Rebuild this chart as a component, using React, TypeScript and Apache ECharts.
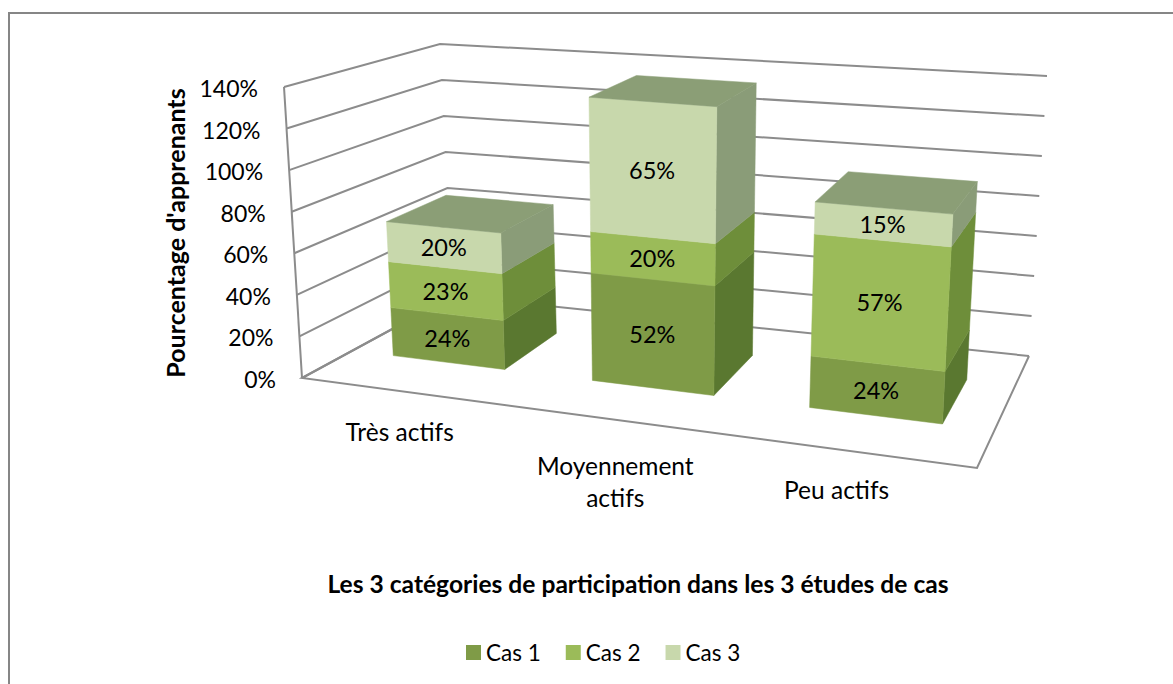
import React, { useEffect, useRef } from "react";
import * as echarts from "echarts";

const categories = ["Très actifs", "Moyennement\nactifs", "Peu actifs"];
const cas1 = [24, 52, 24];
const cas2 = [23, 20, 57];
const cas3 = [20, 65, 15];
const seriesNames = ["Cas 1", "Cas 2", "Cas 3"];
const yTicks = [0, 20, 40, 60, 80, 100, 120, 140];

const seriesValues = [cas1, cas2, cas3];
const frontColors = ["#7F9B47", "#9BBB59", "#C8D8AC"];
const sideColors = ["#5A7830", "#6E8E3A", "#8A9C78"];
const topColor = "#8B9E76";
const FONT = "Lato";
const TICK_SIZE = 23;
const CATEGORY_SIZE = 24.5;
const DATA_SIZE = 23.5;
const LEGEND_SIZE = 22.5;
const TITLE_SIZE = 24.6;
const YNAME_SIZE = 25;

// 3D box corners of the plot, as they appear on the page
type P = [number, number];
const FLB: P = [302, 378], FRB: P = [977, 468], BLB: P = [453, 296], BRB: P = [1029, 356];
const FLT: P = [284, 87], FRT: P = [995, 145], BLT: P = [440, 44], BRT: P = [1047, 76];
const PERSPECTIVE = 1.141;
const BAR_FRONT = 0.335;
const BAR_BACK = 0.74;
const labelOffsets: P[] = [[-3, 40], [-2, 61], [-15, 38]];

const mix = (a: P, b: P, t: number): P => [a[0] + (b[0] - a[0]) * t, a[1] + (b[1] - a[1]) * t];
function project(s: number, v: number, w: number): P {
  const u = s / (s + (1 - s) * PERSPECTIVE);
  const bottom = mix(mix(FLB, FRB, u), mix(BLB, BRB, u), w);
  const top = mix(mix(FLT, FRT, u), mix(BLT, BRT, u), w);
  return mix(bottom, top, v);
}

function stacked(seriesIdx: number) {
  return categories.map((_, c) => {
    let start = 0;
    for (let k = 0; k < seriesIdx; k++) start += seriesValues[k][c];
    const value = seriesValues[seriesIdx][c];
    return [c, start, start + value, value];
  });
}

export default function App() {
  const ref = useRef<HTMLDivElement>(null);
  useEffect(() => {
    const chart = echarts.init(ref.current!, null, { renderer: "svg" });
    const vOf = (api: any, params: any, val: number) => {
      const cs = params.coordSys;
      return (cs.y + cs.height - api.coord([0, val])[1]) / cs.height;
    };
    const sOf = (api: any, params: any, c: number) => {
      const cs = params.coordSys;
      return (api.coord([c, 0])[0] - cs.x) / cs.width;
    };
    const textStyle = (text: string, x: number, y: number, size: number) => ({
      type: "text",
      silent: true,
      z2: 100,
      style: { text, x, y, align: "center", verticalAlign: "middle", fill: "#000", font: `${size}px ${FONT}`, lineHeight: 32 },
    });

    const wallSeries = {
      type: "custom",
      name: "walls",
      silent: true,
      clip: false,
      z: 1,
      data: yTicks.map((t) => [0, t]),
      encode: { x: 0, y: 1 },
      renderItem: (params: any, api: any) => {
        const val = api.value(1);
        const v = vOf(api, params, val);
        const lineStyle = { stroke: "#8C8C8C", lineWidth: 2, fill: "none" };
        const pts = [project(0, v, 0), project(0, v, 1), project(1, v, 1)];
        const children: any[] = [{ type: "polyline", shape: { points: pts }, style: lineStyle }];
        const fl = project(0, v, 0);
        children.push({
          type: "text",
          style: { text: `${val}%`, x: fl[0] - 26, y: fl[1] + 1, align: "right", verticalAlign: "middle", fill: "#000", font: `${TICK_SIZE}px ${FONT}` },
        });
        if (val === 0) {
          children.push({
            type: "polyline",
            shape: { points: [project(0, 0, 1), project(0, 0, 0), project(1, 0, 0), project(1, 0, 1)] },
            style: lineStyle,
          });
          children.push({
            type: "line",
            shape: { x1: FLB[0], y1: FLB[1], x2: FLT[0], y2: FLT[1] },
            style: lineStyle,
          });
        }
        return { type: "group", children };
      },
    };

    const categoryLabelSeries = {
      type: "custom",
      name: "categories",
      silent: true,
      clip: false,
      z: 1,
      data: categories.map((_, c) => [c, 0]),
      encode: { x: 0, y: 1 },
      renderItem: (params: any, api: any) => {
        const c = api.value(0);
        const p = project(sOf(api, params, c), 0, 0);
        return textStyle(categories[c], p[0] + labelOffsets[c][0], p[1] + labelOffsets[c][1], CATEGORY_SIZE);
      },
    };

    const barSeries = seriesNames.map((name, idx) => ({
      type: "custom",
      name,
      silent: true,
      clip: false,
      z: 2 + idx,
      itemStyle: { color: frontColors[idx] },
      data: stacked(idx),
      encode: { x: 0, y: [1, 2] },
      renderItem: (params: any, api: any) => {
        const c = api.value(0);
        const sc = sOf(api, params, c);
        const half = (api.size([1, 0])[0] / params.coordSys.width) * 0.57 * 0.5;
        const v0 = vOf(api, params, api.value(1));
        const v1 = vOf(api, params, api.value(2));
        const s0 = sc - half, s1 = sc + half;
        const poly = (points: P[], fill: string) => ({
          type: "polygon",
          shape: { points },
          style: { fill, stroke: fill, lineWidth: 0.5 },
        });
        const children: any[] = [
          poly([project(s1, v0, BAR_FRONT), project(s1, v0, BAR_BACK), project(s1, v1, BAR_BACK), project(s1, v1, BAR_FRONT)], sideColors[idx]),
          poly([project(s0, v0, BAR_FRONT), project(s1, v0, BAR_FRONT), project(s1, v1, BAR_FRONT), project(s0, v1, BAR_FRONT)], frontColors[idx]),
        ];
        if (idx === seriesNames.length - 1) {
          children.push(poly([project(s0, v1, BAR_FRONT), project(s1, v1, BAR_FRONT), project(s1, v1, BAR_BACK), project(s0, v1, BAR_BACK)], topColor));
        }
        const m = project(sc, (v0 + v1) / 2, BAR_FRONT);
        children.push(textStyle(`${api.value(3)}%`, m[0], m[1], DATA_SIZE));
        return { type: "group", children };
      },
    }));

    chart.setOption({
      animation: false,
      backgroundColor: "#fff",
      textStyle: { fontFamily: FONT },
      grid: { left: 284, top: 88, width: 708, height: 290 },
      xAxis: {
        type: "category",
        data: categories,
        name: "Les 3 catégories de participation dans les 3 études de cas",
        nameLocation: "middle",
        nameGap: 193,
        nameTextStyle: { fontFamily: FONT, fontWeight: "bold", fontSize: TITLE_SIZE, color: "#000" },
        axisLine: { show: false },
        axisTick: { show: false },
        axisLabel: { show: false },
        splitLine: { show: false },
      },
      yAxis: {
        type: "value",
        min: 0,
        max: 140,
        interval: 20,
        name: "Pourcentage d'apprenants",
        nameLocation: "middle",
        nameRotate: 90,
        nameGap: 97,
        nameTextStyle: { fontFamily: FONT, fontWeight: "bold", fontSize: YNAME_SIZE, color: "#000" },
        axisLine: { show: false },
        axisTick: { show: false },
        axisLabel: { show: false },
        splitLine: { show: false },
      },
      legend: {
        data: seriesNames,
        left: 461,
        top: 636,
        icon: "rect",
        itemWidth: 15,
        itemHeight: 15,
        itemGap: 25,
        selectedMode: false,
        textStyle: { fontFamily: FONT, fontSize: LEGEND_SIZE, color: "#000" },
      },
      graphic: [
        {
          type: "polyline",
          silent: true,
          shape: { points: [[9, 684], [9, 13], [1173, 13]] },
          style: { stroke: "#868686", lineWidth: 2, fill: "none" },
        },
      ],
      series: [wallSeries, categoryLabelSeries, ...barSeries],
    });
    return () => chart.dispose();
  }, []);
  return <div ref={ref} style={{ position: "absolute", left: 0, top: 0, width: 1173, height: 684 }} />;
}
